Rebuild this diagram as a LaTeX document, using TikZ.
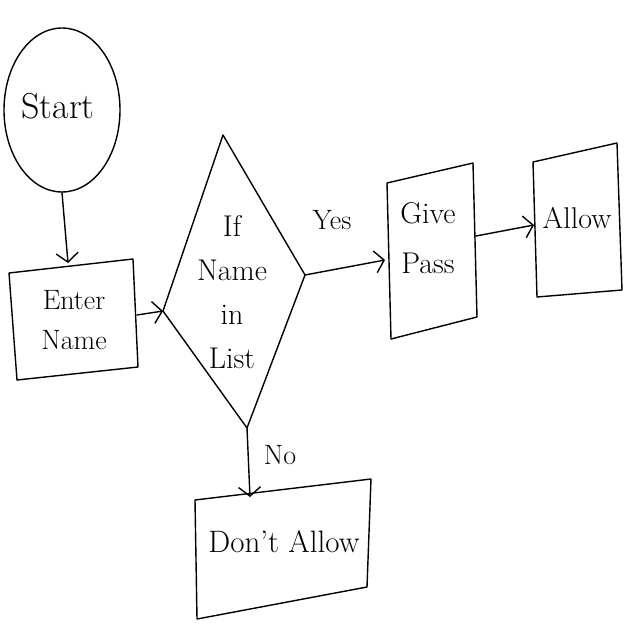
\documentclass[tikz,border=0pt]{standalone}
\usetikzlibrary{arrows.meta,shapes.geometric}
\begin{document}
\begin{tikzpicture}[x=1pt,y=-1pt,
  ink/.style={line width=1.4pt, line join=round, line cap=round},
  arr/.style={ink, -{Straight Barb[length=9pt,width=22pt,line width=1.4pt]}},
  lbl/.style={align=center, inner sep=0pt},
  fs/.style={font=\fontsize{#1}{#1*1.15}\selectfont},
  box/.style={ink}]
\useasboundingbox (0,0) rectangle (640,640);
% Start ellipse
\node[ink, draw, ellipse, minimum width=116pt, minimum height=164pt, inner sep=0pt] (start) at (62,110) {};
\node[lbl, font=\fontsize{36}{40}\selectfont] (starttxt) at (58,106) {Start};
% Enter Name box
\coordinate (e1) at (9,273); \coordinate (e2) at (133,259);
\coordinate (e3) at (138,367); \coordinate (e4) at (17,380);
\draw[box] (e1) -- (e2) -- (e3) -- (e4) -- cycle;
\node[lbl, font=\fontsize{28}{40}\selectfont] (entertxt) at (74,320) {Enter\\Name};
\coordinate (enterTop) at (68,263);
\coordinate (enterRight) at (137,315);
% Diamond
\coordinate (dT) at (223,135); \coordinate (dL) at (163,311);
\coordinate (dR) at (305,275); \coordinate (dB) at (247,428);
\draw[box] (dT) -- (dR) -- (dB) -- (dL) -- cycle;
\node[lbl, font=\fontsize{30}{44}\selectfont] (ifdtxt) at (232,292) {If\\Name\\in\\List};
% Give Pass box
\coordinate (g1) at (387,183); \coordinate (g2) at (473,163);
\coordinate (g3) at (477,317); \coordinate (g4) at (391,339);
\draw[box] (g1) -- (g2) -- (g3) -- (g4) -- cycle;
\node[lbl, font=\fontsize{30}{50}\selectfont] (givetxt) at (428,238) {Give\\Pass};
\coordinate (giveLeft) at (385,260);
\coordinate (giveRight) at (476,236);
% Allow box
\coordinate (a1) at (533,162); \coordinate (a2) at (617,143);
\coordinate (a3) at (622,290); \coordinate (a4) at (537,297);
\draw[box] (a1) -- (a2) -- (a3) -- (a4) -- cycle;
\node[lbl, font=\fontsize{30}{36}\selectfont] (allowtxt) at (577,218) {Allow};
\coordinate (allowLeft) at (534,225);
% Don't Allow box
\coordinate (n1) at (195,500); \coordinate (n2) at (371,479);
\coordinate (n3) at (367,587); \coordinate (n4) at (197,619);
\draw[box] (n1) -- (n2) -- (n3) -- (n4) -- cycle;
\node[lbl, font=\fontsize{31}{36}\selectfont] (dontxt) at (284,542) {Don't Allow};
\coordinate (dontTop) at (250,497);
% connectors
\draw[arr] (start.south) -- (enterTop);
\draw[arr] (enterRight) -- (dL);
\draw[arr] (dR) -- (giveLeft);
\draw[arr] (giveRight) -- (allowLeft);
\draw[arr] (dB) -- (dontTop);
\node[lbl, font=\fontsize{28}{32}\selectfont] (yes) at (332,220) {Yes};
\node[lbl, font=\fontsize{28}{32}\selectfont] (no) at (280,455) {No};
\end{tikzpicture}
\end{document}
